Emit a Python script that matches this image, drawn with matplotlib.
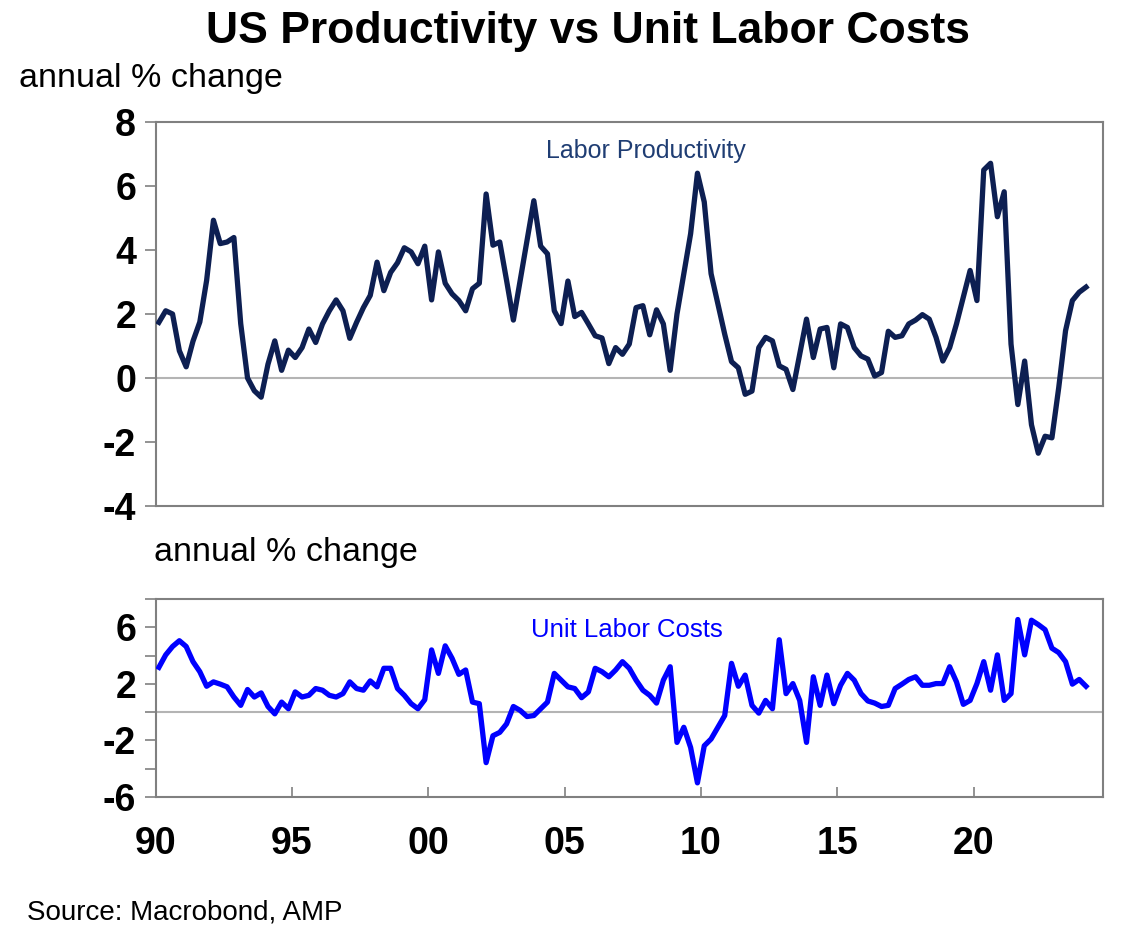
import numpy as np
import matplotlib.pyplot as plt

# quarterly data, 1990Q1 .. 2024Q1, annual % change
start_year = 1990
productivity = [
    1.74, 2.1, 2.0, 0.85, 0.35, 1.15, 1.75, 3.05, 4.93, 4.2,
    4.25, 4.39, 1.7, 0.0, -0.4, -0.6, 0.43, 1.16, 0.24, 0.87,
    0.64, 0.95, 1.53, 1.11, 1.69, 2.1, 2.44, 2.1, 1.24, 1.74,
    2.2, 2.58, 3.62, 2.73, 3.3, 3.6, 4.07, 3.94, 3.57, 4.12,
    2.44, 3.94, 2.96, 2.63, 2.42, 2.1, 2.79, 2.96, 5.75, 4.15,
    4.25, 3.05, 1.81, 3.05, 4.3, 5.54, 4.12, 3.88, 2.1, 1.7,
    3.03, 1.92, 2.05, 1.69, 1.32, 1.25, 0.45, 0.95, 0.74, 1.06,
    2.2, 2.26, 1.35, 2.13, 1.69, 0.24, 2.0, 3.26, 4.51, 6.4,
    5.5, 3.26, 2.31, 1.37, 0.51, 0.32, -0.51, -0.41, 0.95, 1.27,
    1.16, 0.38, 0.27, -0.36, 0.74, 1.84, 0.64, 1.53, 1.58, 0.32,
    1.69, 1.58, 0.95, 0.69, 0.59, 0.06, 0.17, 1.46, 1.27, 1.32,
    1.69, 1.81, 1.98, 1.84, 1.27, 0.53, 0.95, 1.69, 2.52, 3.36,
    2.42, 6.5, 6.71, 5.04, 5.82, 1.06, -0.83, 0.53, -1.46, -2.35,
    -1.82, -1.87, -0.3, 1.48, 2.42, 2.68, 2.84,
]
unit_labor_costs = [
    3.17, 4.05, 4.64, 5.05, 4.64, 3.57, 2.86, 1.83, 2.14, 1.98,
    1.79, 1.07, 0.48, 1.6, 1.07, 1.36, 0.4, -0.12, 0.71, 0.24,
    1.43, 1.07, 1.19, 1.67, 1.55, 1.19, 1.07, 1.31, 2.14, 1.67,
    1.55, 2.21, 1.79, 3.1, 3.1, 1.67, 1.19, 0.6, 0.24, 0.88,
    4.4, 2.74, 4.69, 3.81, 2.67, 2.98, 0.71, 0.6, -3.57, -1.67,
    -1.43, -0.83, 0.4, 0.12, -0.31, -0.24, 0.24, 0.71, 2.74, 2.26,
    1.79, 1.67, 1.02, 1.43, 3.1, 2.86, 2.5, 2.98, 3.57, 3.1,
    2.26, 1.55, 1.19, 0.64, 2.26, 3.21, -2.14, -1.07, -2.5, -5.0,
    -2.38, -1.9, -1.07, -0.24, 3.45, 1.83, 2.62, 0.48, -0.07, 0.83,
    0.24, 5.12, 1.31, 2.02, 0.83, -2.14, 2.5, 0.48, 2.62, 0.6,
    1.9, 2.74, 2.26, 1.31, 0.79, 0.64, 0.4, 0.48, 1.67, 1.98,
    2.31, 2.5, 1.9, 1.9, 2.02, 2.02, 3.21, 2.14, 0.55, 0.83,
    2.02, 3.57, 1.55, 4.05, 0.83, 1.31, 6.55, 4.05, 6.5, 6.19,
    5.83, 4.52, 4.21, 3.57, 1.98, 2.31, 1.83,
]
year_ticks = [1990, 1995, 2000, 2005, 2010, 2015, 2020]
year_labels = ["90", "95", "00", "05", "10", "15", "20"]
top_yticks = [-4, -2, 0, 2, 4, 6, 8]
bot_yticks = [-6, -4, -2, 0, 2, 4, 6, 8]
bot_ylabels = ["-6", "", "-2", "", "2", "", "6", ""]

# mid-quarter decimal years
x = start_year + (np.arange(len(productivity)) + 0.5) / 4

plt.rcParams["font.family"] = ["Liberation Sans", "DejaVu Sans"]

W, H = 1133, 946
fig = plt.figure(figsize=(W / 100, H / 100), dpi=100)


def frac(px, py):
    return px / W, 1 - py / H


spine_col = "#808080"
tick_fs = 27
x0, x1 = 155.5, 1102.5
ax1 = fig.add_axes([x0 / W, 1 - 506 / H, (x1 - x0) / W, (506 - 122) / H])
ax2 = fig.add_axes([x0 / W, 1 - 797 / H, (x1 - x0) / W, (797 - 599) / H])

for ax in (ax1, ax2):
    ax.set_xlim(1990, 2024.73)
    ax.axhline(0, color="#b4b4b4", lw=1.5, zorder=1)
    for s in ax.spines.values():
        s.set_color(spine_col)
        s.set_linewidth(1.5)
    ax.tick_params(axis="y", direction="out", length=8, width=1.2,
                   color=spine_col, pad=6)

ax1.plot(x, productivity, color="#0d1f52", lw=3.8, zorder=3)
ax1.set_ylim(-4, 8)
ax1.set_yticks(top_yticks)
ax1.set_yticklabels([str(v) for v in top_yticks], fontweight="bold", fontsize=tick_fs)
ax1.set_xticks([])
ax1.text(2008.0, 7.1, "Labor Productivity", color="#1f3d73", fontsize=18,
         ha="center", va="center")

ax2.plot(x, unit_labor_costs, color="#0000ff", lw=3.8, zorder=3)
ax2.set_ylim(-6, 8)
ax2.set_yticks(bot_yticks)
ax2.set_yticklabels(bot_ylabels, fontweight="bold", fontsize=tick_fs)
ax2.set_xticks(year_ticks)
ax2.set_xticklabels(year_labels, fontweight="bold", fontsize=tick_fs)
ax2.tick_params(axis="x", direction="in", length=7, width=1.2,
                color=spine_col, pad=21)
ax2.text(2007.3, 5.8, "Unit Labor Costs", color="#0000ff", fontsize=18.5,
         ha="center", va="center")

fig.text(*frac(588, 32), "US Productivity vs Unit Labor Costs",
         fontsize=32, fontweight="bold", ha="center", va="center")
fig.text(*frac(19, 78), "annual % change", fontsize=24.5, ha="left", va="center")
fig.text(*frac(154, 552), "annual % change", fontsize=24.5, ha="left", va="center")
fig.text(*frac(27, 912), "Source: Macrobond, AMP", fontsize=20,
         ha="left", va="center")

fig.savefig("out.png", dpi=100)
